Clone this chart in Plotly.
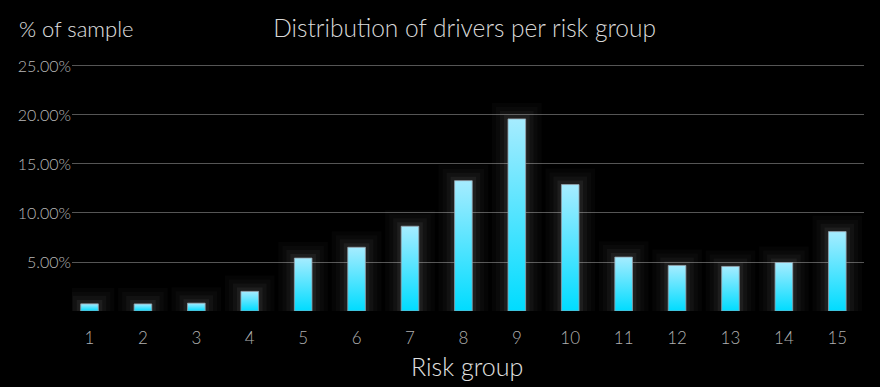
import plotly.graph_objects as go

groups = list(range(1, 16))
shares = [0.73, 0.72, 0.80, 2.0, 5.4, 6.5, 8.65, 13.3, 19.6, 12.9, 5.5, 4.65, 4.55, 4.95, 8.1]
y_ticks = [5, 10, 15, 20, 25]
y_labels = ["5.00%", "10.00%", "15.00%", "20.00%", "25.00%"]

FONT = "Lato, 'Open Sans', sans-serif"
half_w = 0.165
px_x = 53.4   # px per category unit (approx, for glow sizing)
px_y = 9.82   # px per percent

fig = go.Figure()

# soft glow behind bars
for d, a in [(16, 0.02), (12, 0.025), (8, 0.035), (4, 0.05)]:
    fig.add_trace(go.Bar(
        x=groups, y=[v + 2 * d / px_y for v in shares], base=-d / px_y,
        width=2 * half_w + 2 * d / px_x,
        marker=dict(color=f"rgba(255,255,255,{a})", line=dict(width=0)),
        hoverinfo="skip", showlegend=False))

# gradient bars
for g, v in zip(groups, shares):
    fig.add_trace(go.Scatter(
        x=[g - half_w, g + half_w, g + half_w, g - half_w, g - half_w],
        y=[0, 0, v, v, 0],
        mode="lines", fill="toself",
        line=dict(color="rgba(150,160,170,0.8)", width=1),
        fillgradient=dict(type="vertical",
                          colorscale=[[0, "#00dcff"], [1, "#a6ecff"]]),
        showlegend=False, hoverinfo="skip"))

fig.update_layout(
    width=880, height=387,
    paper_bgcolor="black", plot_bgcolor="black",
    barmode="overlay",
    margin=dict(l=72, r=16, t=60, b=75.5),
    font=dict(family=FONT, color="#bbbbbb", weight=300),
    title=dict(text="Distribution of drivers per risk group",
               x=0.528, xanchor="center", y=1 - 28 / 387, yanchor="middle",
               font=dict(size=24.5, color="#d8d8d8", family=FONT, weight=300)),
    xaxis=dict(range=[0.672, 15.5], tickvals=groups,
               ticktext=[str(g) for g in groups],
               showgrid=False, zeroline=False, showline=False,
               tickfont=dict(size=17, color="#b0b0b0", weight=300),
               ticklabelstandoff=15),
    yaxis=dict(range=[0, 25.61], tickvals=[0] + y_ticks, ticktext=[""] + y_labels,
               showgrid=True, gridcolor="#555555", gridwidth=1.2,
               zeroline=False, showline=False,
               tickfont=dict(size=16, color="#b8b8b8", weight=300)),
    annotations=[
        dict(text="% of sample", xref="paper", yref="paper",
             x=-55 / 792, y=1 + 32 / 251.5, xanchor="left", yanchor="middle",
             showarrow=False,
             font=dict(size=22, color="#e0e0e0", family=FONT, weight=300)),
        dict(text="Risk group", xref="paper", yref="paper",
             x=(467 - 72) / 792, y=-(367 - 311.5) / 251.5,
             xanchor="center", yanchor="middle", showarrow=False,
             font=dict(size=25, color="#e0e0e0", family=FONT, weight=300)),
    ],
)

fig.write_html("out.html",
               config={"displayModeBar": False},
               post_script="document.body.style.margin='0';"
                           "document.body.style.background='black';")
